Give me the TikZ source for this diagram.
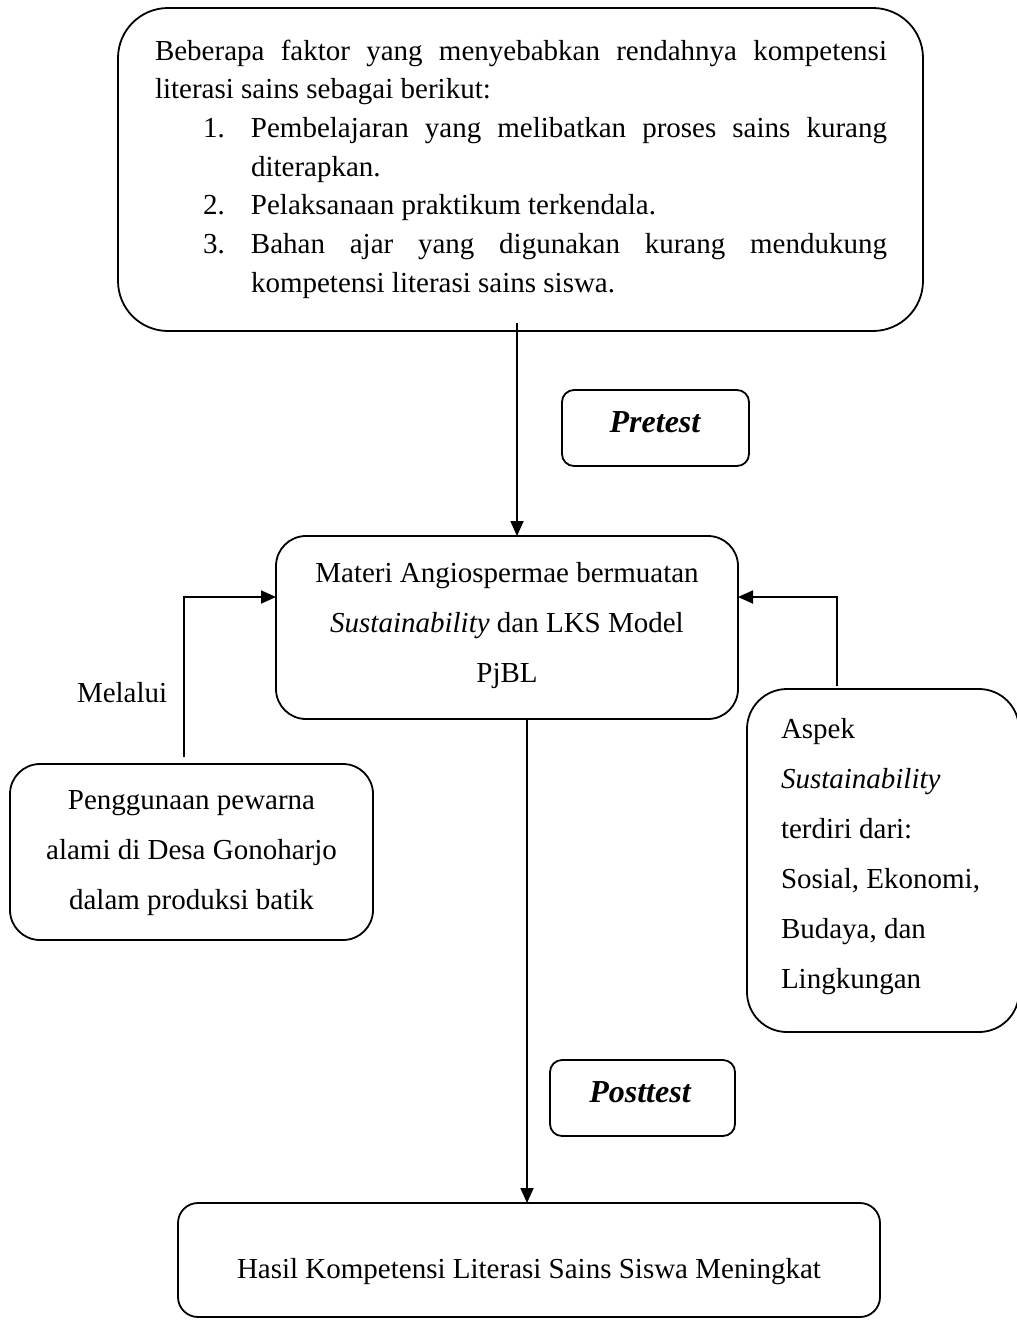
\documentclass[tikz,border=0pt]{standalone}
\usepackage{fontspec}
\setmainfont{Liberation Serif}
\usetikzlibrary{arrows.meta}
\newcommand\bodyfnt{\fontsize{29}{38.7}\selectfont}
\newcommand\widefnt{\fontsize{29}{50}\selectfont}
\newcommand\tagfnt{\fontsize{32}{38}\selectfont\bfseries\itshape}
\begin{document}
\begin{tikzpicture}[x=1pt,y=-1pt,
  panel/.style={draw, line width=1.8pt, inner sep=0pt, outer sep=0pt, rectangle},
  txt/.style={inner sep=0pt, outer sep=0pt, anchor=base, font=\bodyfnt},
  arr/.style={line width=1.8pt, -{Triangle[length=15pt,width=13pt]}}]
\useasboundingbox (0,0) rectangle (1017,1320);
% boxes
\node[panel, rounded corners=50pt, minimum width=805pt, minimum height=323pt] (tbox) at (520.5,169.5) {};
\node[panel, rounded corners=12pt, minimum width=187pt, minimum height=76pt] (pbox) at (655.5,428) {};
\node[panel, rounded corners=30pt, minimum width=462pt, minimum height=183pt] (cbox) at (507,627.5) {};
\node[panel, rounded corners=30pt, minimum width=363pt, minimum height=176pt] (lbox) at (191.5,852) {};
\node[panel, rounded corners=40pt, minimum width=272pt, minimum height=343pt] (rbox) at (883,860.5) {};
\node[panel, rounded corners=12pt, minimum width=185pt, minimum height=76pt] (qbox) at (642.5,1098) {};
\node[panel, rounded corners=20pt, minimum width=702pt, minimum height=114pt] (bbox) at (529,1260) {};
% texts
\node[txt, anchor=base west] (ttext) at (155,60) {\parbox[t]{732pt}{\bodyfnt
\makebox[732pt][s]{Beberapa faktor yang menyebabkan rendahnya kompetensi}\\
literasi sains sebagai berikut:\\
\hspace*{48pt}\makebox[48pt][l]{1.}\makebox[636pt][s]{Pembelajaran yang melibatkan proses sains kurang}\\
\hspace*{96pt}diterapkan.\\
\hspace*{48pt}\makebox[48pt][l]{2.}Pelaksanaan praktikum terkendala.\\
\hspace*{48pt}\makebox[48pt][l]{3.}\makebox[636pt][s]{Bahan ajar yang digunakan kurang mendukung}\\
\hspace*{96pt}kompetensi literasi sains siswa.}};
\node[txt, font=\tagfnt] (ptext) at (655,432) {Pretest};
\node[txt] (ctext) at (507,582) {\parbox[t]{460pt}{\centering\widefnt
Materi Angiospermae bermuatan\\
\textit{Sustainability} dan LKS Model\\
PjBL}};
\node[txt, anchor=base west] (mtext) at (77,702) {Melalui};
\node[txt] (ltext) at (191.5,809) {\parbox[t]{360pt}{\centering\widefnt
Penggunaan pewarna\\
alami di Desa Gonoharjo\\
dalam produksi batik}};
\node[txt, anchor=base west] (rtext) at (781,738) {\parbox[t]{230pt}{\raggedright\widefnt
Aspek\\
\textit{Sustainability}\\
terdiri dari:\\
Sosial, Ekonomi,\\
Budaya, dan\\
Lingkungan}};
\node[txt, font=\tagfnt] (qtext) at (640,1102) {Posttest};
\node[txt] (btext) at (529,1278) {Hasil Kompetensi Literasi Sains Siswa Meningkat};
% connectors
\coordinate (tstart) at (517,323);
\draw[arr] (tstart) -- (tstart |- cbox.north);
\coordinate (bx) at (527,0);
\draw[arr] (cbox.south -| bx) -- (bbox.north -| bx);
\coordinate (lstart) at (184,757);
\coordinate (lcorner) at (184,597);
\draw[arr] (lstart) -- (lcorner) -- (lcorner -| cbox.west);
\coordinate (rstart) at (837,686);
\coordinate (rcorner) at (837,597);
\draw[arr] (rstart) -- (rcorner) -- (rcorner -| cbox.east);
\end{tikzpicture}
\end{document}
